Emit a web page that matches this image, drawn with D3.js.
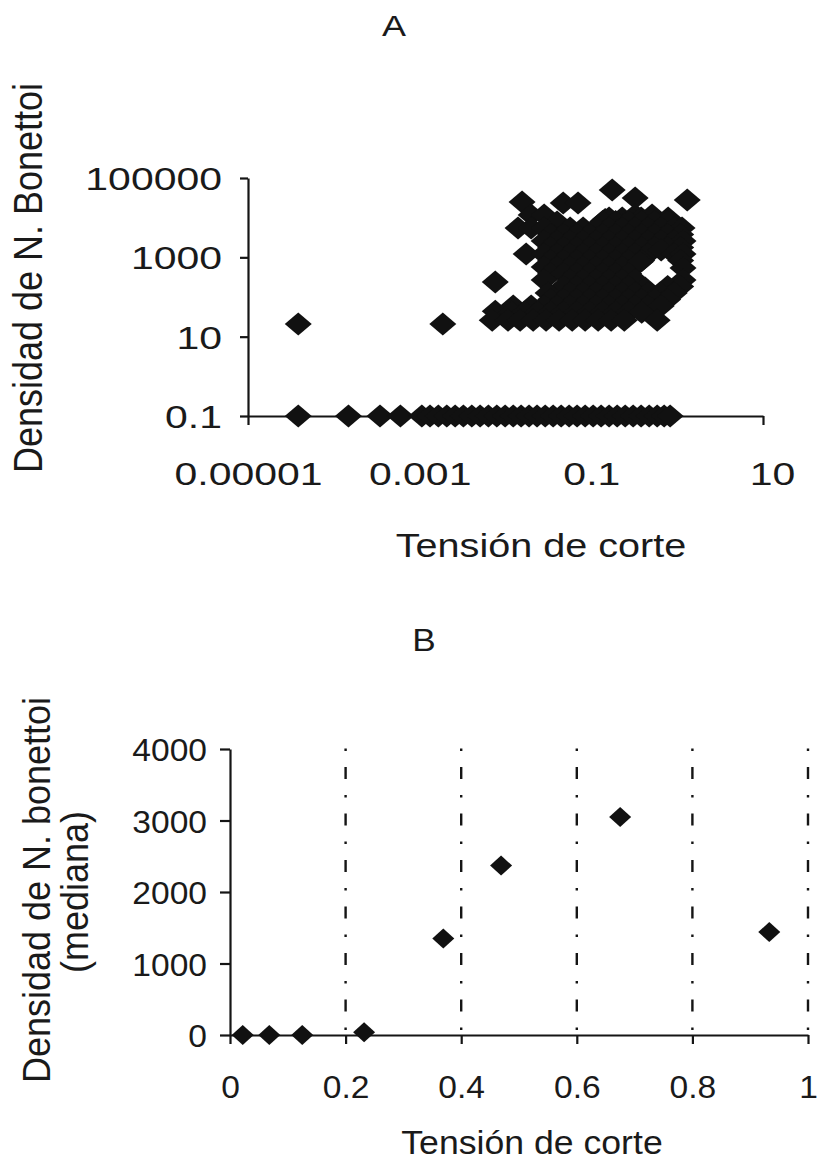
<!DOCTYPE html>
<html><head><meta charset="utf-8">
<script src="https://cdn.jsdelivr.net/npm/d3@7"></script>
<style>body{margin:0;background:#fff}svg{display:block}</style>
</head><body>
<svg id="c" width="820" height="1162"></svg>
<script>
// ---------- Panel A data ----------
const aXTicks = [0.00001, 0.001, 0.1, 10];
const aXTickLabels = ["0.00001", "0.001", "0.1", "10"];
const aYTicks = [0.1, 10, 1000, 100000];
const aYTickLabels = ["0.1", "10", "1000", "100000"];
const aZeroLevel = 0.1;
const aZeroX = [3.85e-5, 1.48e-4, 3.45e-4, 5.96e-4, 1.06e-3, 1.32e-3, 1.65e-3, 2.07e-3, 2.59e-3, 3.23e-3,
  4.05e-3, 5.06e-3, 6.32e-3, 7.92e-3, 0.0099, 0.0123, 0.0152, 0.0188, 0.0233, 0.029, 0.0359, 0.0445,
  0.0551, 0.0682, 0.0847, 0.105, 0.130, 0.161, 0.200, 0.248, 0.307, 0.380, 0.472, 0.585, 0.705, 0.828];
const aCloudX = [
  3.85e-5, 0.00186,
  0.0156, 0.047, 0.070, 0.175, 0.324, 1.31,
  0.0199, 0.0282, 0.145, 0.161, 0.229, 0.324, 0.38, 0.51, 0.785,
  0.1355, 0.192, 0.272, 0.386, 0.547, 0.775,
  0.0399, 0.014, 0.0199, 0.0282, 0.0566, 0.0802, 0.1137, 0.161, 0.229, 0.324, 0.459, 0.651, 0.923, 1.14,
  0.0336, 0.0475, 0.0674, 0.0955, 0.1355, 0.192, 0.272, 0.386, 0.547, 0.775, 1.099,
  0.0282, 0.0399, 0.0566, 0.0802, 0.1137, 0.161, 0.229, 0.324, 0.459, 0.651, 0.923, 1.17,
  0.0336, 0.0475, 0.0674, 0.0955, 0.1355, 0.192, 0.272, 0.386, 0.547, 0.775, 1.099,
  0.0174, 0.0282, 0.0399, 0.0566, 0.0802, 0.1137, 0.161, 0.229, 0.324, 0.459, 0.651, 0.923, 1.17,
  0.0336, 0.0475, 0.0674, 0.0955, 0.1355, 0.192, 0.272, 0.386, 1.099,
  0.0282, 0.0399, 0.0566, 0.0802, 0.1137, 0.161, 0.229, 0.369, 1.17,
  0.0336, 0.0475, 0.0674, 0.0955, 0.1355, 0.192, 0.272,
  0.0076, 0.0282, 0.0566, 0.0802, 0.1137, 0.161, 0.229, 0.324, 0.423, 1.17,
  0.0475, 0.0674, 0.0955, 0.1355, 0.192, 0.272, 0.775, 1.099,
  0.0313, 0.0566, 0.0802, 0.1137, 0.161, 0.229, 0.324, 0.459, 0.634, 0.923,
  0.0336, 0.0475, 0.0674, 0.0955, 0.1355, 0.192, 0.272, 0.386, 0.547, 0.775,
  0.0076, 0.0123, 0.0199, 0.0282, 0.0399, 0.0566, 0.0802, 0.1137, 0.161, 0.229, 0.324, 0.459, 0.651,
  0.0118, 0.0167, 0.0237, 0.0336, 0.0475, 0.0674, 0.0955, 0.1355, 0.192, 0.272, 0.386,
  0.0070, 0.0107, 0.0148, 0.021, 0.0297, 0.0421, 0.0598, 0.0847, 0.120, 0.170, 0.242, 0.585
];
const aCloudY = [
  21, 21,
  24900, 23400, 23400, 49800, 31300, 27900,
  11700, 11700, 9000, 9800, 9800, 11700, 9800, 11700, 9800,
  8000, 8000, 8000, 8000, 8000, 8000,
  7770, 5480, 5480, 5480, 5480, 5480, 5480, 5480, 5480, 5480, 5480, 5480, 5480, 5480,
  3760, 3760, 3760, 3760, 3760, 3760, 3760, 3760, 3760, 3760, 3760,
  2580, 2580, 2580, 2580, 2580, 2580, 2580, 2580, 2580, 2580, 2580, 2580,
  1770, 1770, 1770, 1770, 1770, 1770, 1770, 1770, 1770, 1770, 1770,
  1210, 1210, 1210, 1210, 1210, 1210, 1210, 1210, 1210, 1210, 1530, 1210, 1210,
  832, 832, 832, 832, 832, 832, 832, 832, 832,
  570, 570, 570, 570, 570, 570, 570, 760, 540,
  391, 391, 391, 391, 391, 391, 391,
  240, 268, 268, 268, 268, 268, 268, 268, 168, 268,
  184, 184, 184, 184, 184, 184, 184, 184,
  126, 126, 126, 126, 126, 126, 126, 126, 126, 126,
  86, 86, 86, 86, 86, 86, 86, 86, 86, 86,
  44, 59, 59, 59, 59, 59, 59, 59, 59, 59, 59, 59, 59,
  41, 41, 41, 41, 41, 41, 41, 41, 41, 41, 41,
  26, 26, 26, 26, 26, 26, 26, 26, 26, 26, 26, 26
];

// ---------- Panel B data ----------
const bXTicks = [0, 0.2, 0.4, 0.6, 0.8, 1];
const bXTickLabels = ["0", "0.2", "0.4", "0.6", "0.8", "1"];
const bYTicks = [0, 1000, 2000, 3000, 4000];
const bYTickLabels = ["0", "1000", "2000", "3000", "4000"];
const bGrid = [0.2, 0.4, 0.6, 0.8, 1];
const bX = [0.022, 0.068, 0.125, 0.232, 0.369, 0.469, 0.675, 0.933];
const bY = [0, 0, 0, 40, 1350, 2370, 3050, 1440];

const FONT = "'Liberation Sans', Arial, Helvetica, sans-serif";
const INK = "#151515";
const TXT = "#1a1a1a";
const svg = d3.select("#c");

const diamond = (hw, hh) => `M0,${-hh}L${hw},0L0,${hh}L${-hw},0Z`;

function styleAxis(g, labels, txtTransform, dy, size, anchor) {
  g.attr("font-family", FONT).attr("font-size", null);
  g.select(".domain").attr("stroke", INK).attr("stroke-width", 2.2);
  g.selectAll(".tick line").attr("stroke", INK).attr("stroke-width", 2.2);
  g.selectAll(".tick text")
    .text((d, i) => labels[i])
    .attr("x", 0).attr("y", 0).attr("dy", dy)
    .attr("fill", TXT)
    .attr("font-size", size)
    .attr("text-anchor", anchor)
    .attr("transform", txtTransform);
}

// ================= Panel A =================
const xA = d3.scaleLog().domain([1e-5, 10]).range([248, 763]);
const yA = d3.scaleLog().domain([0.1, 100000]).range([416, 178]);

const gAx = svg.append("g").attr("transform", `translate(0,${yA(0.1)})`)
  .call(d3.axisBottom(xA).tickValues(aXTicks).tickSize(9).tickSizeOuter(0));
styleAxis(gAx, aXTickLabels, "translate(0,69) scale(1.28,1)", "0", 32, "middle");
gAx.selectAll(".tick text").filter(d => d === 10).attr("transform", "translate(9,69) scale(1.28,1)");

const gAy = svg.append("g").attr("transform", `translate(${xA(1e-5)},0)`)
  .call(d3.axisLeft(yA).tickValues(aYTicks).tickSize(8).tickSizeOuter(0));
styleAxis(gAy, aYTickLabels, "translate(-26,0) scale(1.28,1)", "0.36em", 32, "end");

const aAll = aZeroX.map(x => [x, aZeroLevel]).concat(aCloudX.map((x, i) => [x, aCloudY[i]]));
svg.append("g").selectAll("path").data(aAll).join("path")
  .attr("d", diamond(13.5, 11.5))
  .attr("transform", d => `translate(${xA(d[0])},${yA(d[1])})`)
  .attr("fill", "#111");

svg.append("text").text("A")
  .attr("transform", "translate(394,36) scale(1.2,1)")
  .attr("text-anchor", "middle").attr("font-family", FONT).attr("font-size", 30).attr("fill", TXT);

svg.append("text").text("Densidad de N. Bonettoi")
  .attr("transform", "translate(42,278) scale(1.15,1) rotate(-90)")
  .attr("text-anchor", "middle").attr("font-family", FONT).attr("font-size", 36).attr("fill", TXT);

svg.append("text").text("Tensión de corte")
  .attr("transform", "translate(541,557) scale(1.2,1)")
  .attr("text-anchor", "middle").attr("font-family", FONT).attr("font-size", 33).attr("fill", TXT);

// ================= Panel B =================
const xB = d3.scaleLinear().domain([0, 1]).range([230, 808]);
const yB = d3.scaleLinear().domain([0, 4000]).range([1035, 749]);

svg.append("g").selectAll("line").data(bGrid).join("line")
  .attr("x1", d => xB(d)).attr("x2", d => xB(d))
  .attr("y1", yB(4000) - 0.5).attr("y2", yB(0))
  .attr("stroke", INK).attr("stroke-width", 2.4)
  .attr("stroke-dasharray", "2.5,16,12,16");

const gBx = svg.append("g").attr("transform", `translate(0,${yB(0)})`)
  .call(d3.axisBottom(xB).tickValues(bXTicks).tickSize(9).tickSizeOuter(0));
styleAxis(gBx, bXTickLabels, "translate(0,63) scale(1.05,1)", "0", 32, "middle");

const gBy = svg.append("g").attr("transform", `translate(${xB(0)},0)`)
  .call(d3.axisLeft(yB).tickValues(bYTicks).tickSize(10).tickSizeOuter(0));
styleAxis(gBy, bYTickLabels, "translate(-23,0) scale(1.05,1)", "0.36em", 32, "end");

svg.append("g").selectAll("path").data(bX.map((x, i) => [x, bY[i]])).join("path")
  .attr("d", diamond(11, 10))
  .attr("transform", d => `translate(${xB(d[0])},${yB(d[1])})`)
  .attr("fill", "#111");

svg.append("text").text("B")
  .attr("transform", "translate(424,651) scale(1.1,1)")
  .attr("text-anchor", "middle").attr("font-family", FONT).attr("font-size", 32).attr("fill", TXT);

svg.append("text").text("Densidad de N. bonettoi")
  .attr("transform", "translate(50,890) scale(1.1,1) rotate(-90)")
  .attr("text-anchor", "middle").attr("font-family", FONT).attr("font-size", 36).attr("fill", TXT);
svg.append("text").text("(mediana)")
  .attr("transform", "translate(88,892) scale(1.1,1) rotate(-90)")
  .attr("text-anchor", "middle").attr("font-family", FONT).attr("font-size", 36).attr("fill", TXT);

svg.append("text").text("Tensión de corte")
  .attr("transform", "translate(532,1154) scale(1.08,1)")
  .attr("text-anchor", "middle").attr("font-family", FONT).attr("font-size", 33).attr("fill", TXT);
</script>
</body></html>
